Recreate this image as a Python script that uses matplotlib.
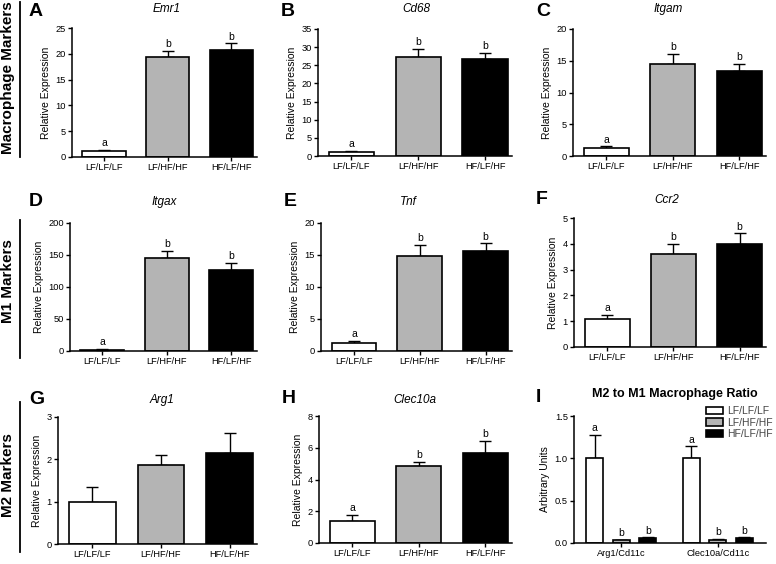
import numpy as np
import matplotlib
matplotlib.use('Agg')
import matplotlib.pyplot as plt
from matplotlib.patches import Patch

plt.rcParams['font.family'] = ['Liberation Sans', 'DejaVu Sans']

W, H = 776, 564

groups = ['LF/LF/LF', 'LF/HF/HF', 'HF/LF/HF']
colors = ['white', '#b4b4b4', 'black']

# gene panels: means, upper SEM, letters
emr1 = [1.2, 19.3, 20.7];      emr1_err = [0.15, 1.2, 1.3]
cd68 = [1.2, 27.4, 26.7];      cd68_err = [0.2, 2.0, 1.8]
itgam = [1.3, 14.5, 13.4];     itgam_err = [0.2, 1.6, 1.1]
itgax = [2.0, 145.0, 126.0];   itgax_err = [0.5, 12.0, 11.0]
tnf = [1.3, 14.9, 15.7];       tnf_err = [0.2, 1.6, 1.1]
ccr2 = [1.1, 3.62, 4.0];       ccr2_err = [0.15, 0.37, 0.4]
arg1 = [1.0, 1.87, 2.15];      arg1_err = [0.35, 0.23, 0.47]
clec10a = [1.4, 4.88, 5.68];   clec10a_err = [0.35, 0.25, 0.75]
abb = ['a', 'b', 'b']
none = ['', '', '']

# ratio panel
ratio_cats = ['Arg1/Cd11c', 'Clec10a/Cd11c']
ratio_vals = [[1.0, 1.0], [0.03, 0.04], [0.055, 0.055]]
ratio_err = [[0.28, 0.14], [0.005, 0.008], [0.01, 0.01]]
ratio_letters = [['a', 'a'], ['b', 'b'], ['b', 'b']]

def px_axes(x0, y0, x1, y1):
    return fig.add_axes([x0 / W, 1 - y1 / H, (x1 - x0) / W, (y1 - y0) / H])

def ftext(x, y, s, **kw):
    fig.text(x / W, 1 - y / H, s, **kw)

def style(ax):
    for s in ['top', 'right']:
        ax.spines[s].set_visible(False)
    for s in ['left', 'bottom']:
        ax.spines[s].set_linewidth(1.1)
    ax.tick_params(width=1.0, length=3, labelsize=6.7, pad=1.5)

def bar_panel(box, vals, errs, letters, ymax, step, title, letter, lpos, tpos):
    ax = px_axes(*box)
    x = np.arange(3)
    ax.bar(x, vals, width=0.68, color=colors, edgecolor='black', linewidth=1.2, zorder=2)
    ax.errorbar(x, vals, yerr=[np.zeros(3), errs], fmt='none', ecolor='black',
                elinewidth=1.0, capsize=4.5, capthick=1.0, zorder=1)
    for xi, v, e, l in zip(x, vals, errs, letters):
        ax.text(xi, v + e + ymax * 0.015, l, ha='center', va='bottom', fontsize=7.5)
    ax.set_xlim(-0.5, 2.4)
    ax.set_ylim(0, ymax)
    ax.set_yticks(np.arange(0, ymax + step / 2, step))
    ax.set_xticks(x)
    ax.set_xticklabels(groups, fontsize=7.2)
    ax.set_ylabel('Relative Expression', fontsize=7.5, labelpad=3)
    style(ax)
    ftext(tpos[0], tpos[1], title, ha='center', va='center', fontsize=8.5, style='italic')
    ftext(lpos[0], lpos[1], letter, ha='left', va='top', fontsize=14, fontweight='bold')
    return ax

fig = plt.figure(figsize=(W / 100, H / 100), dpi=100)

bar_panel((72, 28, 257, 157), emr1, emr1_err, abb, 25, 5, 'Emr1', 'A', (29, 3), (167, 9))
bar_panel((318, 29, 512, 156), cd68, cd68_err, abb, 35, 5, 'Cd68', 'B', (281, 3), (416, 9))
bar_panel((573, 29, 766, 156), itgam, itgam_err, abb, 20, 5, 'Itgam', 'C', (536, 3), (668, 9))
bar_panel((70, 223, 257, 351), itgax, itgax_err, abb, 200, 50, 'Itgax', 'D', (29, 193), (164, 202))
bar_panel((321, 223, 512, 351), tnf, tnf_err, abb, 20, 5, 'Tnf', 'E', (284, 193), (408, 202))
bar_panel((574, 218, 766, 347), ccr2, ccr2_err, abb, 5, 1, 'Ccr2', 'F', (536, 191), (667, 200))
bar_panel((58, 417, 257, 544), arg1, arg1_err, none, 3, 1, 'Arg1', 'G', (29, 391), (162, 400))
bar_panel((319, 416, 512, 543), clec10a, clec10a_err, abb, 8, 2, 'Clec10a', 'H', (282, 390), (415, 400))

# panel I: grouped ratio bars
ax = px_axes(574, 416, 766, 543)
xg = np.arange(len(ratio_cats))
off = 0.275
for i in range(3):
    xi = xg + (i - 1) * off
    ax.bar(xi, ratio_vals[i], width=0.18, color=colors[i], edgecolor='black',
           linewidth=1.2, zorder=2)
    ax.errorbar(xi, ratio_vals[i], yerr=[np.zeros(2), ratio_err[i]], fmt='none',
                ecolor='black', elinewidth=1.0, capsize=4.5, capthick=1.0, zorder=1)
    for xx, v, e, l in zip(xi, ratio_vals[i], ratio_err[i], ratio_letters[i]):
        ax.text(xx, v + e + 0.02, l, ha='center', va='bottom', fontsize=7.5)
ax.set_xlim(-0.49, 1.5)
ax.set_ylim(0, 1.5)
ax.set_yticks([0, 0.5, 1.0, 1.5])
ax.set_yticklabels(['0.0', '0.5', '1.0', '1.5'])
ax.set_xticks(xg)
ax.set_xticklabels(ratio_cats, fontsize=7.2)
ax.set_ylabel('Arbitrary Units', fontsize=7.5, labelpad=3)
style(ax)
handles = [Patch(facecolor=c, edgecolor='black', linewidth=1.2) for c in colors]
fig.legend(handles, groups, loc='upper left', bbox_to_anchor=(706 / W, 1 - 406 / H),
           frameon=False, fontsize=7.5, handlelength=1.6, handleheight=0.7,
           labelspacing=0.15, handletextpad=0.45, borderpad=0, borderaxespad=0,
           labelcolor='#444444')
ftext(675, 394, 'M2 to M1 Macrophage Ratio', ha='center', va='center', fontsize=9, fontweight='bold')
ftext(536, 389, 'I', ha='left', va='top', fontsize=14, fontweight='bold')

# row labels with vertical rules
rows = [('Macrophage Markers', 78, 2, 157), ('M1 Markers', 281, 220, 358), ('M2 Markers', 475, 402, 552)]
for label, yc, y0, y1 in rows:
    ftext(8, yc, label, ha='center', va='center', rotation=90, fontsize=11, fontweight='bold')
    fig.add_artist(plt.Line2D([20 / W, 20 / W], [1 - y0 / H, 1 - y1 / H], color='black', lw=1.3))

fig.savefig('out.png', dpi=100)
